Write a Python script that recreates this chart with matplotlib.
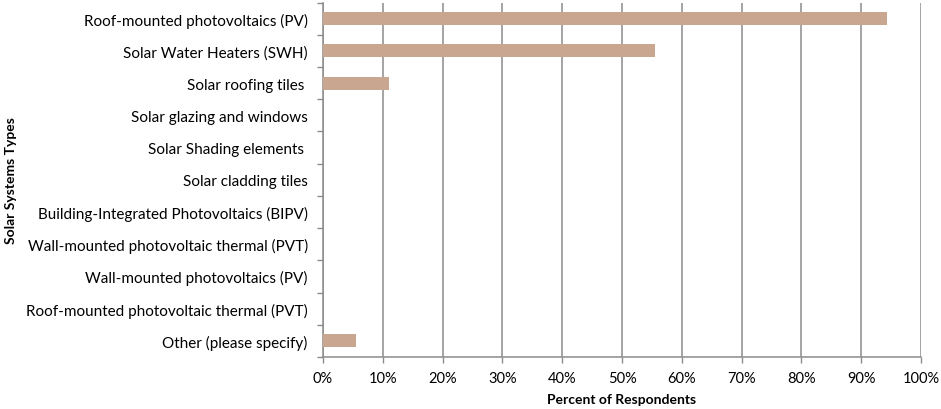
import numpy as np
import matplotlib
matplotlib.use("Agg")
import matplotlib.pyplot as plt
from matplotlib.ticker import FixedLocator, PercentFormatter

# données
categories = [
    "Roof-mounted photovoltaics (PV)",
    "Solar Water Heaters (SWH)",
    "Solar roofing tiles ",
    "Solar glazing and windows",
    "Solar Shading elements ",
    "Solar cladding tiles",
    "Building-Integrated Photovoltaics (BIPV)",
    "Wall-mounted photovoltaic thermal (PVT)",
    "Wall-mounted photovoltaics (PV)",
    "Roof-mounted photovoltaic thermal (PVT)",
    "Other (please specify)",
]
percent = [94.3, 55.5, 11.1, 0, 0, 0, 0, 0, 0, 0, 5.5]

plt.rcParams['font.family'] = ['Lato', 'DejaVu Sans']
grey = '#8c8c8c'

fig = plt.figure(figsize=(9.41, 4.10), dpi=100)
ax = fig.add_axes([0.3433, 0.1268, 0.6355, 0.8646])

y = np.arange(len(categories))
ax.barh(y, percent, height=0.4, color='#c9a690', zorder=3)

ax.set_xlim(0, 100)
ax.set_ylim(len(categories) - 0.5, -0.5)
ax.set_xticks(np.arange(0, 101, 10))
ax.xaxis.set_major_formatter(PercentFormatter(decimals=0))
ax.set_yticks(y)
ax.set_yticklabels(categories)
ax.yaxis.set_minor_locator(FixedLocator(np.arange(-0.5, len(categories), 1)))

ax.tick_params(axis='y', which='major', length=0, pad=11, labelsize=11, colors='black')
ax.tick_params(axis='y', which='minor', length=4, color=grey, width=1)
ax.tick_params(axis='x', length=4, color=grey, width=1, labelsize=10.5, pad=6)

ax.grid(axis='x', color=grey, linewidth=1.1, zorder=0)
for s in ['top', 'right']:
    ax.spines[s].set_visible(False)
for s in ['left', 'bottom']:
    ax.spines[s].set_color(grey)
    ax.spines[s].set_linewidth(1.1)

ax.set_xlabel("Percent of Respondents", fontweight='bold', fontsize=10, labelpad=6)
ax.set_ylabel("Solar Systems Types", fontweight='bold', fontsize=10)
ax.yaxis.set_label_coords(-0.512, 0.5)

fig.savefig("out.png", dpi=100)
